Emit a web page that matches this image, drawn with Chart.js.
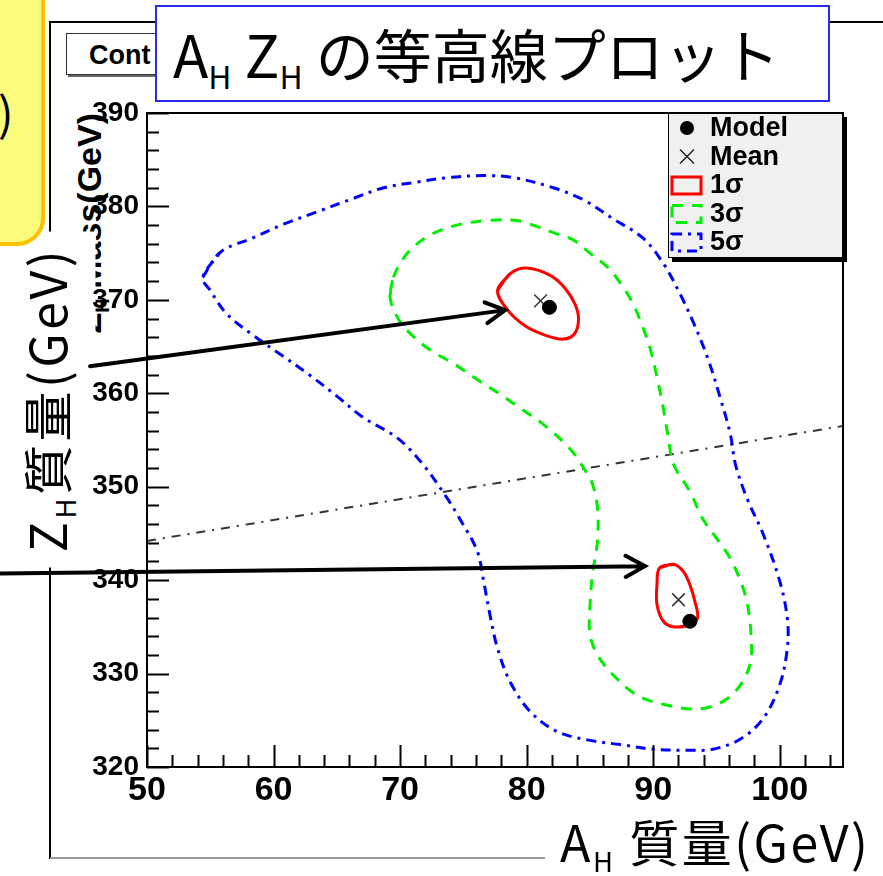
<!DOCTYPE html>
<html>
<head>
<meta charset="utf-8">
<script src="https://cdn.jsdelivr.net/npm/chart.js@4/dist/chart.umd.min.js"></script>
<style>
  html, body { margin: 0; padding: 0; background: #fff; overflow: hidden; }
  #page { position: relative; width: 883px; height: 876px; }
  #plot { position: absolute; left: 0; top: 0; z-index: 3; }
  .deco { position: absolute; z-index: 0; }
  .over { position: absolute; z-index: 2; }
  .cjk { font-family: 'Noto Sans CJK JP', 'Noto Sans', sans-serif; color: #000; white-space: nowrap; }
  .cjk sub { font-size: 0.55em; vertical-align: -0.35em; line-height: 0; }
</style>
</head>
<body>
<div id="page">
  <!-- ROOT canvas decoration, under the plot -->
  <div class="deco" style="left:49px; top:21px; width:834px; height:2px; background:#000;"></div>
  <div class="deco" style="left:49px; top:21px; width:2px; height:838px; background:#000;"></div>
  <div class="deco" style="left:50px; top:857px; width:495px; height:2px; background:#999;"></div>
  <div class="deco" style="left:66px; top:33px; width:120px; height:42px; border:1.5px solid #333; box-shadow:2px 2px 0 #666; background:#fff;
       font:bold 27px 'Liberation Sans', Arial, sans-serif; line-height:42px; padding-left:22px; box-sizing:border-box;">Cont</div>
  <div class="deco" style="left:-61px; top:245px; width:300px; height:36px; transform:rotate(-90deg); transform-origin:center;
       font:bold 34px 'Liberation Sans', Arial, sans-serif; text-align:right; line-height:36px;">Z<sub style="font-size:20px">H</sub> Mass(GeV)</div>

  <!-- slide overlays -->
  <div class="over cjk" style="left:-120px; top:352px; width:336px; height:95px; transform:rotate(-90deg); transform-origin:center; background:#fff; font-size:50px; line-height:89px; text-align:center; letter-spacing:3.5px;">Z<sub>H</sub>質量(GeV)</div>

  <canvas id="plot" width="883" height="876"></canvas>

  <div class="over" style="left:-30px; top:-30px; width:75px; height:276px; box-sizing:border-box; border:4px solid #ffc000; border-radius:28px; background:#fbfb7c; z-index:4;"></div>
  <div class="over cjk" style="left:-2px; top:78px; font-size:46px; z-index:5;">)</div>
  <div class="over cjk" style="left:155px; top:5px; width:675px; height:97px; box-sizing:border-box; border:2px solid #2a2aee; background:#fff; font-size:58px; line-height:92px; padding-left:16px; z-index:4;">A<sub>H</sub> Z<sub>H</sub> の等高線プロット</div>
  <div class="over cjk" style="left:548px; top:808px; width:335px; height:68px; background:#fff; font-size:50px; line-height:64px; padding-left:12px; box-sizing:border-box; letter-spacing:2.5px; z-index:4;">A<sub>H</sub> 質量(GeV)</div>
</div>

<script>
// Axis ranges and tick labels
const xMin = 50, xMax = 105;
const yMin = 320, yMax = 390;
const xTickLabels = [50, 60, 70, 80, 90, 100];
const yTickLabels = [320, 330, 340, 350, 360, 370, 380, 390];
const minorStep = 2;

// Best-fit model points and the means (A_H mass, Z_H mass)
const modelA = [81.8, 92.9];
const modelZ = [369.2, 335.6];
const meanA = [81.1, 92.0];
const meanZ = [369.9, 337.9];

// 1 sigma contours (two islands)
const sigma1aA = [77.7, 78.7, 80.0, 81.9, 83.0, 83.8, 84.1, 83.8, 82.9, 81.5, 79.9, 78.5];
const sigma1aZ = [371.0, 372.8, 373.4, 372.6, 371.3, 369.6, 368.0, 366.4, 365.8, 366.2, 367.2, 368.9];
const sigma1bA = [90.5, 91.6, 92.4, 92.9, 93.3, 93.5, 92.8, 91.6, 90.8, 90.3, 90.3];
const sigma1bZ = [341.3, 341.7, 340.9, 339.5, 337.7, 335.9, 335.2, 335.0, 335.6, 337.4, 339.5];

// 3 sigma contour
const sigma3A = [69.2, 69.4, 70.0, 71.0, 72.6, 74.5, 76.9, 79.2, 80.5, 82.1, 83.7, 85.0, 86.4, 87.4, 88.4, 89.2,
  89.8, 90.3, 90.8, 91.2, 91.6, 92.9, 93.9, 95.0, 96.1, 96.9, 97.4, 97.7, 97.7, 96.9, 95.5, 93.5, 90.8, 88.7,
  86.8, 85.6, 85.0, 85.0, 85.2, 85.6, 85.6, 85.2, 84.5, 83.4, 81.3, 79.5, 77.9, 76.3, 74.2, 72.4, 70.8, 69.8];
const sigma3Z = [370.3, 372.1, 373.9, 375.6, 377.1, 378.0, 378.5, 378.5, 378.0, 377.2, 376.4, 375.0, 373.5, 371.8, 369.6, 367.0,
  364.6, 361.7, 358.4, 355.2, 352.4, 349.5, 346.6, 344.5, 342.3, 339.9, 337.7, 334.8, 331.3, 328.8, 327.0, 326.2, 326.7, 327.7,
  329.9, 332.0, 334.2, 337.0, 340.6, 344.2, 347.7, 350.3, 352.0, 354.1, 356.7, 358.4, 359.9, 361.3, 363.2, 364.6, 366.4, 368.1];

// 5 sigma contour
const sigma5A = [54.4, 55.8, 58.3, 60.8, 63.4, 66.0, 68.7, 71.3, 73.9, 76.6, 78.9, 82.1, 84.5, 86.8, 89.2, 90.8,
  92.1, 93.2, 94.3, 95.3, 96.1, 96.5, 97.4, 98.7, 100.0, 100.6, 100.6, 100.0, 98.7, 96.9, 94.7, 92.7, 90.0, 87.4,
  84.8, 82.4, 80.3, 78.7, 77.7, 77.1, 76.6, 76.1, 74.7, 73.7, 71.8, 69.8, 67.1, 65.0, 62.9, 60.5, 58.4, 56.3, 55.0];
const sigma5Z = [372.4, 375.1, 376.6, 378.1, 379.4, 380.7, 382.0, 382.6, 383.1, 383.3, 383.1, 382.0, 380.7, 378.7, 376.6, 373.9,
  370.7, 367.5, 363.8, 359.5, 355.6, 352.4, 348.8, 344.9, 339.9, 335.9, 332.7, 328.8, 325.2, 323.0, 321.9, 321.8, 321.9, 322.4,
  322.9, 323.8, 325.9, 329.1, 332.7, 336.3, 339.9, 343.1, 346.6, 348.8, 352.4, 355.2, 357.4, 359.7, 361.9, 364.2, 366.2, 368.5, 371.0];

// dash-dot reference line across the plot
const refLineA = [50, 105];
const refLineZ = [344.2, 356.5];

// slide arrows (tail -> head, in data units)
const arrowTailA = [45.5, 38.4];
const arrowTailZ = [362.9, 340.7];
const arrowHeadA = [78.3, 89.35];
const arrowHeadZ = [368.9, 341.5];

function toPoints(xs, ys) {
  return xs.map((v, i) => ({ x: v, y: ys[i] }));
}

// closed loop: wrap two extra points so the spline has no kink where it closes
function toLoop(xs, ys) {
  const pts = toPoints(xs, ys);
  return [...pts, pts[0], pts[1]];
}

const rootFont = "'Liberation Sans', Arial, sans-serif";

/**
 * ROOT-style frame with inward major/minor ticks
 */
const rootFrame = {
  id: 'rootFrame',
  afterDatasetsDraw(chart) {
    const { ctx, chartArea: a, scales: { x, y } } = chart;
    ctx.save();
    ctx.strokeStyle = '#000';
    ctx.lineWidth = 2;
    ctx.strokeRect(a.left, a.top, a.right - a.left, a.bottom - a.top);
    ctx.beginPath();
    for (let v = xMin; v < xMax; v += minorStep) {
      const px = Math.round(x.getPixelForValue(v)) + 0.5;
      const len = v % 10 === 0 ? 22 : 12;
      ctx.moveTo(px, a.bottom);
      ctx.lineTo(px, a.bottom - len);
    }
    for (let v = yMin; v <= yMax; v += minorStep) {
      const py = Math.round(y.getPixelForValue(v)) + 0.5;
      const len = v % 10 === 0 ? 22 : 12;
      ctx.moveTo(a.left, py);
      ctx.lineTo(a.left + len, py);
    }
    ctx.stroke();
    ctx.restore();
  }
};

/**
 * ROOT-style legend box, entries read from the datasets
 */
const rootLegend = {
  id: 'rootLegend',
  afterDraw(chart) {
    const { ctx, chartArea: a } = chart;
    const w = 175, h = 145;
    const left = a.right - w, top = a.top;
    ctx.save();
    ctx.fillStyle = '#000';
    ctx.fillRect(left + 4, top + 4, w, h);
    ctx.fillStyle = '#f0f0f0';
    ctx.fillRect(left, top, w, h);
    ctx.strokeStyle = '#000';
    ctx.lineWidth = 1;
    ctx.strokeRect(left + 0.5, top + 0.5, w - 1, h - 1);

    const entries = chart.data.datasets.filter(d => d.label);
    entries.forEach((d, i) => {
      const cy = top + 15 + i * 28.5;
      if (d.showLine) {
        ctx.strokeStyle = d.borderColor;
        ctx.lineWidth = d.borderWidth;
        ctx.setLineDash(d.borderDash || []);
        ctx.strokeRect(left + 4, cy - 8, 29, 17);
        ctx.setLineDash([]);
      } else if (d.pointStyle === 'crossRot') {
        ctx.strokeStyle = '#222';
        ctx.lineWidth = 1.5;
        ctx.beginPath();
        ctx.moveTo(left + 12, cy - 7); ctx.lineTo(left + 26, cy + 7);
        ctx.moveTo(left + 26, cy - 7); ctx.lineTo(left + 12, cy + 7);
        ctx.stroke();
      } else {
        ctx.fillStyle = '#000';
        ctx.beginPath();
        ctx.arc(left + 19, cy, 7, 0, Math.PI * 2);
        ctx.fill();
      }
      ctx.fillStyle = '#000';
      ctx.font = 'bold 27px ' + rootFont;
      ctx.textBaseline = 'middle';
      ctx.fillText(d.label, left + 42, cy + 1);
    });
    ctx.restore();
  }
};

/**
 * Slide arrows pointing at the two 1 sigma islands
 */
const slideArrows = {
  id: 'slideArrows',
  afterDraw(chart) {
    const { ctx, scales: { x, y } } = chart;
    ctx.save();
    ctx.strokeStyle = '#000';
    ctx.lineWidth = 4;
    ctx.lineCap = 'round';
    arrowTailA.forEach((_, i) => {
      const x0 = x.getPixelForValue(arrowTailA[i]), y0 = y.getPixelForValue(arrowTailZ[i]);
      const x1 = x.getPixelForValue(arrowHeadA[i]), y1 = y.getPixelForValue(arrowHeadZ[i]);
      const ang = Math.atan2(y1 - y0, x1 - x0);
      ctx.beginPath();
      ctx.moveTo(x0, y0);
      ctx.lineTo(x1, y1);
      ctx.moveTo(x1 - 22 * Math.cos(ang - 0.5), y1 - 22 * Math.sin(ang - 0.5));
      ctx.lineTo(x1, y1);
      ctx.lineTo(x1 - 22 * Math.cos(ang + 0.5), y1 - 22 * Math.sin(ang + 0.5));
      ctx.stroke();
    });
    ctx.restore();
  }
};

const contourStyle = { showLine: true, pointRadius: 0, borderWidth: 3, tension: 0.35, fill: false };

new Chart(document.getElementById('plot'), {
  type: 'scatter',
  data: {
    datasets: [
      { label: 'Model', data: toPoints(modelA, modelZ), pointStyle: 'circle', pointRadius: 7,
        backgroundColor: '#000', borderColor: '#000', showLine: false },
      { label: 'Mean', data: toPoints(meanA, meanZ), pointStyle: 'crossRot', pointRadius: 9,
        borderColor: '#333', borderWidth: 1.5, showLine: false },
      { label: '1σ', data: toLoop(sigma1aA, sigma1aZ), borderColor: '#ff0000', ...contourStyle },
      { label: '', data: toLoop(sigma1bA, sigma1bZ), borderColor: '#ff0000', ...contourStyle },
      { label: '3σ', data: toLoop(sigma3A, sigma3Z), borderColor: '#00ee00', borderDash: [11, 9], ...contourStyle },
      { label: '5σ', data: toLoop(sigma5A, sigma5Z), borderColor: '#0000ff', borderDash: [10, 6, 3, 6], ...contourStyle },
      { label: '', data: toPoints(refLineA, refLineZ), showLine: true, pointRadius: 0, borderWidth: 2,
        borderColor: '#333', borderDash: [9, 7, 2, 7], tension: 0 }
    ]
  },
  options: {
    responsive: false,
    animation: false,
    layout: { padding: { left: 0, right: 40, top: 113, bottom: 59 } },
    plugins: { legend: { display: false }, tooltip: { enabled: false } },
    scales: {
      x: {
        type: 'linear', min: xMin, max: xMax,
        afterBuildTicks: s => { s.ticks = xTickLabels.map(v => ({ value: v })); },
        afterFit: s => { s.height = 50; },
        grid: { display: false, drawTicks: false },
        border: { display: false },
        ticks: { color: '#000', padding: 3, maxRotation: 0, autoSkip: false,
          font: { family: "'Liberation Sans Narrow', 'Liberation Sans', Arial, sans-serif", size: 34, weight: 'bold' } }
      },
      y: {
        type: 'linear', min: yMin, max: yMax,
        afterBuildTicks: s => { s.ticks = yTickLabels.map(v => ({ value: v })); },
        afterFit: s => { s.width = 147; },
        grid: { display: false, drawTicks: false },
        border: { display: false },
        ticks: { color: '#000', padding: 8, autoSkip: false,
          font: { family: rootFont, size: 28, weight: 'bold' } }
      }
    }
  },
  plugins: [rootFrame, rootLegend, slideArrows]
});
</script>
</body>
</html>
